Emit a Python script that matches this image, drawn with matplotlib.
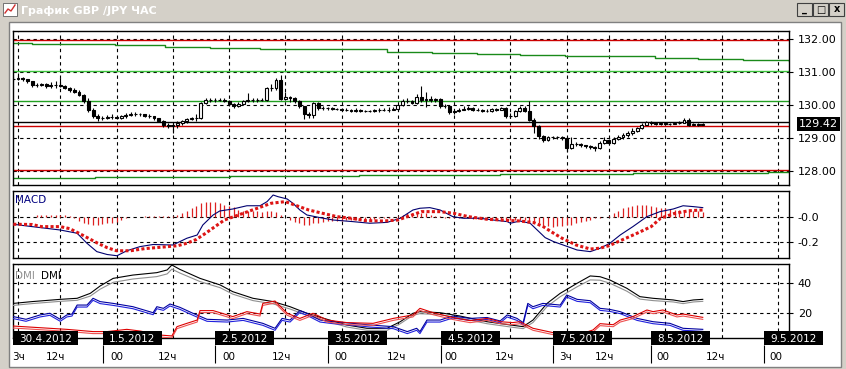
import numpy as np
import matplotlib.pyplot as plt
from matplotlib.patches import Rectangle
from matplotlib.colors import LinearSegmentedColormap
from matplotlib.transforms import offset_copy

W, H = 846, 369

# x axis = hourly bar index (30.4.2012 03:00 = 3)
bars = list(range(2, 150))
opens = [130.78, 130.80, 130.82, 130.78, 130.72, 130.62, 130.60, 130.64, 130.58, 130.60,
         130.60, 130.58, 130.52, 130.44, 130.40, 130.30, 130.12, 129.85, 129.68, 129.60,
         129.62, 129.65, 129.64, 129.62, 129.67, 129.70, 129.73, 129.73, 129.72, 129.68,
         129.66, 129.60, 129.52, 129.40, 129.36, 129.38, 129.45, 129.50, 129.58, 129.60,
         129.60, 130.06, 130.15, 130.16, 130.16, 130.16, 130.12, 130.03, 129.97, 130.03,
         130.12, 130.16, 130.15, 130.14, 130.16, 130.52, 130.50, 130.77, 130.19, 130.24,
         130.20, 130.12, 129.97, 129.72, 129.70, 130.06, 129.91, 129.91, 129.90, 129.88,
         129.88, 129.86, 129.86, 129.83, 129.86, 129.83, 129.82, 129.82, 129.84, 129.85,
         129.86, 129.86, 129.89, 130.00, 130.12, 130.13, 130.06, 130.24, 130.15, 130.19,
         130.15, 130.17, 129.97, 129.97, 129.79, 129.81, 129.86, 129.89, 129.92, 129.86,
         129.86, 129.83, 129.83, 129.89, 129.86, 129.91, 129.67, 129.67, 129.81, 129.91,
         129.83, 129.55, 129.35, 129.05, 128.95, 129.02, 129.02, 129.02, 129.00, 128.70,
         128.82, 128.82, 128.78, 128.75, 128.72, 128.70, 128.85, 128.95, 128.85, 128.97,
         129.02, 129.10, 129.15, 129.20, 129.30, 129.40, 129.48, 129.45, 129.42, 129.45,
         129.42, 129.43, 129.45, 129.46, 129.55, 129.40, 129.42, 129.40]
closes = [130.80, 130.82, 130.78, 130.72, 130.62, 130.60, 130.64, 130.58, 130.60, 130.60,
          130.58, 130.52, 130.44, 130.40, 130.30, 130.12, 129.85, 129.68, 129.60, 129.62,
          129.65, 129.64, 129.62, 129.67, 129.70, 129.73, 129.73, 129.72, 129.68, 129.66,
          129.60, 129.52, 129.40, 129.36, 129.38, 129.45, 129.50, 129.58, 129.60, 129.60,
          130.06, 130.15, 130.16, 130.16, 130.16, 130.12, 130.03, 129.97, 130.03, 130.12,
          130.16, 130.15, 130.14, 130.16, 130.52, 130.50, 130.77, 130.19, 130.24, 130.20,
          130.12, 129.97, 129.72, 129.70, 130.06, 129.91, 129.91, 129.90, 129.88, 129.88,
          129.86, 129.86, 129.83, 129.86, 129.83, 129.82, 129.82, 129.84, 129.85, 129.86,
          129.86, 129.89, 130.00, 130.12, 130.13, 130.06, 130.24, 130.15, 130.19, 130.15,
          130.17, 129.97, 129.97, 129.79, 129.81, 129.86, 129.89, 129.92, 129.86, 129.86,
          129.83, 129.83, 129.89, 129.86, 129.91, 129.67, 129.67, 129.81, 129.91, 129.83,
          129.55, 129.35, 129.05, 128.95, 129.02, 129.02, 129.02, 129.00, 128.70, 128.82,
          128.82, 128.78, 128.75, 128.72, 128.70, 128.85, 128.95, 128.85, 128.97, 129.02,
          129.10, 129.15, 129.20, 129.30, 129.40, 129.48, 129.45, 129.42, 129.45, 129.42,
          129.43, 129.45, 129.46, 129.55, 129.40, 129.42, 129.40, 129.42]
highs = [130.86, 130.96, 130.86, 130.80, 130.74, 130.66, 130.68, 130.66, 130.70, 130.72,
         130.82, 130.62, 130.56, 130.50, 130.44, 130.34, 130.20, 129.90, 129.72, 129.66,
         129.70, 129.72, 129.68, 129.70, 129.76, 129.78, 129.80, 129.76, 129.74, 129.72,
         129.68, 129.62, 129.54, 129.44, 129.42, 129.50, 129.55, 129.62, 129.64, 129.72,
         130.10, 130.20, 130.20, 130.20, 130.22, 130.20, 130.16, 130.06, 130.08, 130.16,
         130.36, 130.20, 130.20, 130.20, 130.56, 130.64, 130.82, 130.90, 130.40, 130.28,
         130.24, 130.14, 129.98, 129.80, 130.10, 130.08, 129.96, 129.94, 129.93, 129.92,
         129.91, 129.90, 129.88, 129.90, 129.88, 129.86, 129.86, 129.88, 129.90, 129.92,
         129.94, 129.94, 130.04, 130.18, 130.20, 130.16, 130.34, 130.58, 130.40, 130.26,
         130.22, 130.20, 130.02, 130.00, 129.86, 129.90, 129.96, 129.96, 129.94, 129.90,
         129.88, 129.88, 129.92, 129.92, 129.94, 129.94, 129.76, 129.86, 129.96, 129.96,
         130.13, 129.60, 129.38, 129.10, 129.06, 129.06, 129.06, 129.05, 129.02, 129.02,
         128.88, 128.84, 128.80, 128.78, 128.76, 128.90, 129.04, 128.98, 129.04, 129.10,
         129.14, 129.22, 129.30, 129.34, 129.46, 129.52, 129.50, 129.48, 129.48, 129.47,
         129.46, 129.48, 129.50, 129.60, 129.62, 129.45, 129.44, 129.45]
lows = [130.74, 130.76, 130.72, 130.66, 130.56, 130.55, 130.58, 130.52, 130.52, 130.50,
        130.54, 130.48, 130.40, 130.36, 130.26, 130.06, 129.80, 129.60, 129.52, 129.56,
        129.58, 129.58, 129.58, 129.58, 129.62, 129.66, 129.66, 129.66, 129.64, 129.62,
        129.56, 129.48, 129.34, 129.30, 129.16, 129.30, 129.38, 129.46, 129.54, 129.52,
        129.58, 130.02, 130.10, 130.10, 130.12, 130.08, 129.98, 129.92, 129.95, 130.00,
        130.10, 130.08, 130.10, 130.12, 130.12, 130.42, 130.46, 130.14, 130.14, 130.10,
        130.06, 129.92, 129.58, 129.62, 129.62, 129.86, 129.86, 129.86, 129.84, 129.84,
        129.82, 129.82, 129.78, 129.80, 129.79, 129.78, 129.78, 129.80, 129.80, 129.82,
        129.80, 129.84, 129.86, 129.96, 130.06, 130.02, 130.02, 130.10, 129.94, 130.10,
        130.10, 129.92, 129.90, 129.74, 129.74, 129.78, 129.84, 129.86, 129.82, 129.82,
        129.80, 129.80, 129.80, 129.82, 129.84, 129.62, 129.60, 129.64, 129.78, 129.80,
        129.50, 129.15, 128.98, 128.88, 128.92, 128.96, 128.97, 128.95, 128.58, 128.66,
        128.76, 128.74, 128.70, 128.66, 128.62, 128.66, 128.82, 128.80, 128.82, 128.94,
        128.98, 129.04, 129.10, 129.18, 129.28, 129.38, 129.40, 129.38, 129.40, 129.38,
        129.40, 129.41, 129.42, 129.44, 129.36, 129.38, 129.37, 129.38]
last_price = 129.42
last_line = 129.47
red_levels = [131.98, 129.35, 128.03]
green_levels = [131.04, 130.13]
green_colors = ['#3cc43c', '#22a022']
upper_x = [1.9, 6, 23.7, 34.3, 43.9, 54.6, 62.7, 81.7, 91.3, 100.9, 110, 119.6, 128.8, 138.8, 148, 157.6, 167.4]
upper_y = [131.89, 131.86, 131.81, 131.76, 131.72, 131.69, 131.69, 131.60, 131.58, 131.54,
           131.51, 131.48, 131.47, 131.43, 131.39, 131.36, 131.33]
lower_x = [1.9, 19.4, 48.3, 75.6, 105.8, 134.1, 162.9, 167.4]
lower_y = [127.78, 127.83, 127.86, 127.89, 127.92, 127.95, 127.98, 127.98]

macd_x = [2, 6, 12, 15.6, 17.7, 19.8, 22, 24.1, 26.2, 29, 31.8, 36, 39, 41.2, 42.4, 44.6, 46, 48.8,
          51.8, 54.6, 56.1, 57.4, 58.4, 60.4, 61.6, 63.1, 64.6, 67.4, 70.2, 74.4, 78, 81.7, 84.5,
          87.2, 88.7, 90.8, 93, 95.7, 97.9, 101.5, 104.3, 107.3, 108, 110, 112.2, 113.7, 115.4,
          117.2, 120.2, 122.2, 125, 127.1, 129.2, 131.4, 134.1, 137.1, 139.9, 142.7, 144.8, 147, 149]
macd_y = [-0.058, -0.077, -0.104, -0.13, -0.21, -0.277, -0.30, -0.31, -0.27, -0.237, -0.22, -0.224,
          -0.17, -0.144, -0.064, 0.016, 0.048, 0.064, 0.09, 0.09, 0.123, 0.176, 0.163, 0.144, 0.11,
          0.056, 0.016, -0.005, -0.024, -0.037, -0.05, -0.043, -0.01, 0.056, 0.07, 0.075, 0.056,
          0.003, -0.01, -0.01, -0.024, -0.037, -0.05, -0.032, -0.05, -0.104, -0.165, -0.197, -0.237,
          -0.264, -0.277, -0.25, -0.21, -0.144, -0.077, 0.003, 0.043, 0.064, 0.09, 0.083, 0.075]
sig_x = [2, 6, 8, 12, 14, 16, 18, 20, 22, 24, 27, 30, 34, 37, 39, 41, 43, 45, 47, 50, 52, 55, 57,
         60, 62, 65, 68, 71, 74, 77, 81, 84, 87, 89, 90, 93, 96, 99, 103, 106, 110, 113, 115, 117,
         119, 122, 125, 127, 129, 132, 135, 138, 140, 143, 146, 149]
sig_y = [-0.058, -0.06, -0.077, -0.077, -0.093, -0.13, -0.17, -0.21, -0.245, -0.27, -0.27, -0.253,
         -0.24, -0.23, -0.21, -0.18, -0.13, -0.077, -0.024, 0.016, 0.043, 0.083, 0.11, 0.123, 0.096,
         0.056, 0.029, 0.003, -0.01, -0.029, -0.032, -0.024, 0.016, 0.043, 0.043, 0.043, 0.029,
         0.003, -0.018, -0.024, -0.032, -0.045, -0.077, -0.125, -0.17, -0.224, -0.256, -0.25,
         -0.23, -0.18, -0.13, -0.077, -0.01, 0.029, 0.05, 0.056]
hist = [0, 0, 0, 0, 0, 0.015, 0.015, 0.015, 0.015, 0.015,
        0.015, 0.015, 0.01, -0.01, -0.03, -0.045, -0.055, -0.06, -0.06, -0.055,
        -0.05, -0.045, -0.04, -0.02, -0.01, 0, 0, 0, 0.005, 0.005,
        0.01, 0.01, 0.01, 0.01, 0.01, 0.02, 0.03, 0.05, 0.07, 0.09,
        0.11, 0.12, 0.12, 0.12, 0.11, 0.10, 0.09, 0.08, 0.06, 0.05,
        0.05, 0.05, 0.045, 0.04, 0.05, 0.05, 0.04, 0.02, 0.0, -0.02,
        -0.04, -0.05, -0.06, -0.06, -0.05, -0.045, -0.04, -0.035, -0.03, -0.03,
        -0.03, -0.025, -0.025, -0.02, -0.02, -0.02, -0.02, -0.015, -0.01, -0.01,
        -0.005, 0, 0.01, 0.02, 0.03, 0.035, 0.03, 0.03, 0.03, 0.02,
        0.01, 0.005, -0.005, -0.01, -0.01, -0.01, -0.01, -0.01, -0.015, -0.015,
        -0.015, -0.015, -0.015, -0.015, -0.015, -0.02, -0.02, -0.02, -0.02, -0.02,
        -0.03, -0.04, -0.05, -0.065, -0.075, -0.077, -0.075, -0.07, -0.065, -0.06,
        -0.05, -0.04, -0.03, -0.02, -0.01, -0.005, 0.0, 0.01, 0.03, 0.05,
        0.07, 0.08, 0.09, 0.1, 0.1, 0.1, 0.09, 0.08, 0.075, 0.07,
        0.065, 0.06, 0.06, 0.055, 0.05, 0.05, 0.045, 0.04]

adx_x = [2, 6, 12, 15.6, 18.4, 20.5, 23.3, 27.5, 32.6, 34.8, 35.8, 37.5, 41.8, 46.1, 48.8, 53.1,
         57.4, 61, 64.6, 68.9, 73.1, 77.4, 81.7, 84.5, 87.2, 88.7, 93, 97.2, 103, 108, 110.7, 112.8,
         115.8, 118.6, 122.2, 125, 127.1, 129.2, 132.8, 135.6, 138.4, 142.7, 144.8, 147, 149]
adx_y = [26.4, 27.6, 29.1, 29.8, 33.1, 38, 43.1, 45.3, 46.9, 48.7, 52, 49.1, 43.1, 38.7, 34.2, 29.8,
         27.6, 24.2, 19.8, 15.8, 12, 9.8, 9.8, 14.2, 19.8, 20.9, 20.2, 18, 14.2, 12, 10.9, 15.3,
         26.4, 33.1, 39.8, 44.7, 44.2, 42, 36.5, 30.9, 29.8, 28.7, 27.6, 28.7, 29.1]
adx2_y = [26.4, 27.6, 29.1, 29.8, 32.6, 37.2, 41.8, 44.0, 45.6, 47.4, 50.6, 48.0, 42.3, 38.2, 33.9,
          29.6, 27.4, 24.0, 19.8, 15.8, 12, 9.8, 9.8, 14.2, 19.8, 20.9, 20.2, 18, 14.2, 12, 10.9,
          15.0, 25.6, 32.2, 38.8, 43.4, 43.2, 41.2, 35.9, 30.6, 29.6, 28.7, 27.6, 28.7, 29.1]
pdi_x = [2, 4.7, 7.7, 9.8, 12, 13.4, 14.5, 15.6, 17.7, 19, 20.5, 23.3, 27.5, 31.8, 32.6, 34, 35.4,
         37.5, 40.3, 43.3, 47.6, 51, 55.2, 57.8, 59.3, 61, 63.1, 64.6, 67.4, 70.2, 74.4, 78, 83, 86,
         88, 88.7, 90.2, 93, 95.7, 99.4, 103, 105.8, 107.3, 109.4, 110.7, 111.7, 112.8, 114.9,
         118.6, 120, 122.2, 125, 127.1, 129.2, 131.4, 135, 138.4, 142, 144.8, 149]
pdi_y = [17.6, 15.8, 18.7, 19.8, 15.8, 18.7, 19.3, 25.3, 25.3, 29.8, 27.6, 26.4, 24.2, 20.2, 24.2,
         23.1, 26, 23.8, 19.8, 15.8, 15.3, 16.4, 13.1, 9.8, 16.4, 15.3, 21.6, 19.8, 15.3, 14.2,
         13.1, 12, 10.9, 7.6, 9.8, 7.6, 15.3, 15.3, 18, 16.4, 17, 14.7, 18.7, 16.4, 13.6, 26.4,
         24.2, 26.4, 25.3, 32, 29.1, 28.2, 23.1, 22.4, 20.9, 16.4, 14.2, 13.1, 9.8, 9.1]
mdi_x = [2, 7.7, 13.4, 19, 22, 26.2, 29, 33.3, 35.8, 36.9, 39, 41.2, 41.8, 44.6, 48.8, 51.8, 54.6,
         55.2, 57.8, 60.4, 63.1, 65.9, 68.9, 73.1, 78.7, 83, 87.2, 88.7, 91.5, 95.7, 99.4, 103,
         105.8, 108.5, 110, 112.8, 117.1, 121.3, 125.6, 127.1, 129.9, 131.4, 134.1, 137.1, 138.4,
         140.5, 143.5, 144.8, 149]
mdi_y = [11.3, 10.2, 9.1, 7.6, 7.6, 9.1, 8, 5.3, 4.7, 10.9, 13.1, 15.3, 21.6, 21.6, 17.6, 20.9,
         19.3, 26.4, 28, 19.8, 16.4, 19.8, 15.3, 13.6, 13.1, 16.4, 18.7, 23.1, 20.2, 17, 14.9, 16.4,
         14.2, 13.6, 14.2, 9.8, 6.9, 4.2, 8.7, 12.9, 12.2, 15.3, 17.6, 22, 20.9, 22, 18.7, 19.3, 17.1]

grid_x = [3, 12, 24, 36, 48, 60, 72, 84, 96, 108, 120, 129, 141, 153, 165]
day_labels = ['30.4.2012', '1.5.2012', '2.5.2012', '3.5.2012', '4.5.2012', '7.5.2012', '8.5.2012', '9.5.2012']
day_pos = [1.93, 21.1, 45, 69.1, 93.2, 117.1, 138, 162.1]
hour_labels = ['3ч', '12ч', '00', '12ч', '00', '12ч', '00', '12ч', '00', '12ч', '3ч', '12ч', '00', '12ч', '00']
hour_pos = [1.7, 9.0, 22.6, 32.9, 46.5, 57.2, 70.4, 81.7, 94.0, 104.7, 118.4, 126.0, 139.2, 149.7, 163.3]

XLIM = (1.93, 167.39)
GRID = dict(color='black', lw=0.8, ls=(0, (3, 3)))

fig = plt.figure(figsize=(W / 100, H / 100), dpi=100)

# window chrome
bg = fig.add_axes([0, 0, 1, 1])
bg.axis('off')
bg.add_patch(Rectangle((0, 0), W, H, color='#d4d0c8'))
cm = LinearSegmentedColormap.from_list('tb', ['#7c7c7c', '#bcbcbc'])
bg.imshow(np.linspace(0, 1, 256)[None, :], cmap=cm, aspect='auto', extent=(2, W - 2, 19, 1))
bg.add_patch(Rectangle((9, 22), 832, 345, facecolor='white', edgecolor='#808080', lw=1))
bg.add_patch(Rectangle((3, 3), 14, 13, facecolor='white', edgecolor='#606060', lw=0.6))
bg.plot([5, 8, 11, 15], [13, 9, 11, 5], color='#d03030', lw=1)
bg.text(21, 10.5, 'График GBP /JPY ЧАС', color='white', weight='bold', size=8, va='center')
for bx, sym in zip([797, 813, 829], ['_', '□', 'x']):
    bg.add_patch(Rectangle((bx, 3), 15, 13, facecolor='#d4d0c8', edgecolor='#404040', lw=0.8))
    bg.text(bx + 7.5, 9.5, sym, ha='center', va='center', size=7, weight='bold')
bg.set_xlim(0, W)
bg.set_ylim(H, 0)


def panel(top, bottom):
    ax = fig.add_axes([13 / W, 1 - bottom / H, 776 / W, (bottom - top) / H])
    ax.set_xlim(*XLIM)
    ax.set_xticks(grid_x)
    ax.tick_params(axis='x', length=0, labelbottom=False)
    ax.yaxis.tick_right()
    ax.tick_params(axis='y', direction='out', length=3, width=0.8, pad=3.3, labelsize=8)
    ax.grid(True, **GRID)
    ax.set_axisbelow(True)
    for s in ax.spines.values():
        s.set_linewidth(1)
    return ax


# price panel
ax = panel(31, 185)
ax.set_ylim(127.576, 132.242)
ax.set_yticks([128, 129, 130, 131, 132])
ax.set_yticklabels(['128.00', '129.00', '130.00', '131.00', '132.00'])
for lv in red_levels:
    ax.axhline(lv, color='#cc0000', lw=1, zorder=2)
for lv, col in zip(green_levels, green_colors):
    ax.axhline(lv, color=col, lw=1, zorder=2)
ax.axhline(last_line, color='black', lw=1, zorder=2)
ax.plot(upper_x, upper_y, color='#1a8a1a', lw=1, drawstyle='steps-post', zorder=2)
ax.plot(lower_x, lower_y, color='#1a8a1a', lw=1, drawstyle='steps-post', zorder=2)

x = np.array(bars, dtype=float)
o, c = np.array(opens), np.array(closes)
ax.vlines(x, lows, highs, color='black', lw=0.8, zorder=3)
up = c >= o
ax.bar(x[up], (c - o)[up], bottom=o[up], width=0.62, facecolor='white', edgecolor='black', lw=0.8, zorder=4)
ax.bar(x[~up], (o - c)[~up], bottom=c[~up], width=0.62, facecolor='black', edgecolor='black', lw=0.8, zorder=4)
ax.annotate(f'{last_price:.2f}', xy=(1, last_price), xycoords=('axes fraction', 'data'),
            xytext=(7, 0), textcoords='offset points', va='center', ha='left', color='white', size=8,
            bbox=dict(boxstyle='square,pad=0.15', fc='black', ec='none'), annotation_clip=False)

# MACD panel
am = panel(191, 258)
am.set_ylim(-0.328, 0.208)
am.set_yticks([-0.2, 0.0])
am.set_yticklabels(['-0.2', '-0.0'])
am.vlines(x, 0, hist, color='#dd2020', lw=0.9, zorder=2)
am.plot(macd_x, macd_y, color='#000070', lw=0.8, zorder=3)
am.plot(sig_x, sig_y, color='#dd1515', lw=2.2, ls=(0, (1, 0.75)), dash_capstyle='butt', zorder=4)
am.text(0.003, 0.94, 'MACD', transform=am.transAxes, color='#000080', size=7.5, va='top')

# DMI panel
ad = panel(264, 338)
ad.set_ylim(3.33, 52.67)
ad.set_yticks([20, 40])
down2 = offset_copy(ad.transData, fig=fig, x=0, y=-2, units='dots')
ad.plot(adx_x, adx2_y, color='#909090', lw=0.8, transform=down2, zorder=3)
ad.plot(adx_x, adx_y, color='black', lw=0.8, zorder=3)
ad.plot(pdi_x, pdi_y, color='#2020dd', lw=0.8, transform=down2, zorder=3)
ad.plot(pdi_x, pdi_y, color='#0000a0', lw=0.8, zorder=3)
ad.plot(mdi_x, mdi_y, color='#ee5050', lw=0.8, transform=down2, zorder=3)
ad.plot(mdi_x, mdi_y, color='#dd0000', lw=0.8, zorder=3)
ad.text(0.003, 0.9, 'DMI', transform=ad.transAxes, color='#909090', size=7.5, va='top')
ad.text(0.036, 0.9, 'DMI', transform=ad.transAxes, color='black', size=7.5, va='top')

# time strip under the DMI panel
st = fig.add_axes([13 / W, 1 - 367 / H, 776 / W, 29 / H])
st.axis('off')
st.set_xlim(*XLIM)
st.set_ylim(29, 0)
for pos, lbl in zip(day_pos, day_labels):
    w = (len(lbl) * 6.5 + 7) / 4.69
    st.add_patch(Rectangle((pos, -7), w, 14, facecolor='black', edgecolor='none', clip_on=False, zorder=5))
    st.text(pos + w / 2, 0.5, lbl, color='white', size=7.5, ha='center', va='center', zorder=6, clip_on=False)
st.vlines(day_pos[1:], 7, 25, color='black', lw=0.8)
for pos, lbl in zip(hour_pos, hour_labels):
    st.text(pos, 19, lbl, size=7.5, ha='left', va='center', clip_on=False)

fig.savefig('out.png', dpi=100)
